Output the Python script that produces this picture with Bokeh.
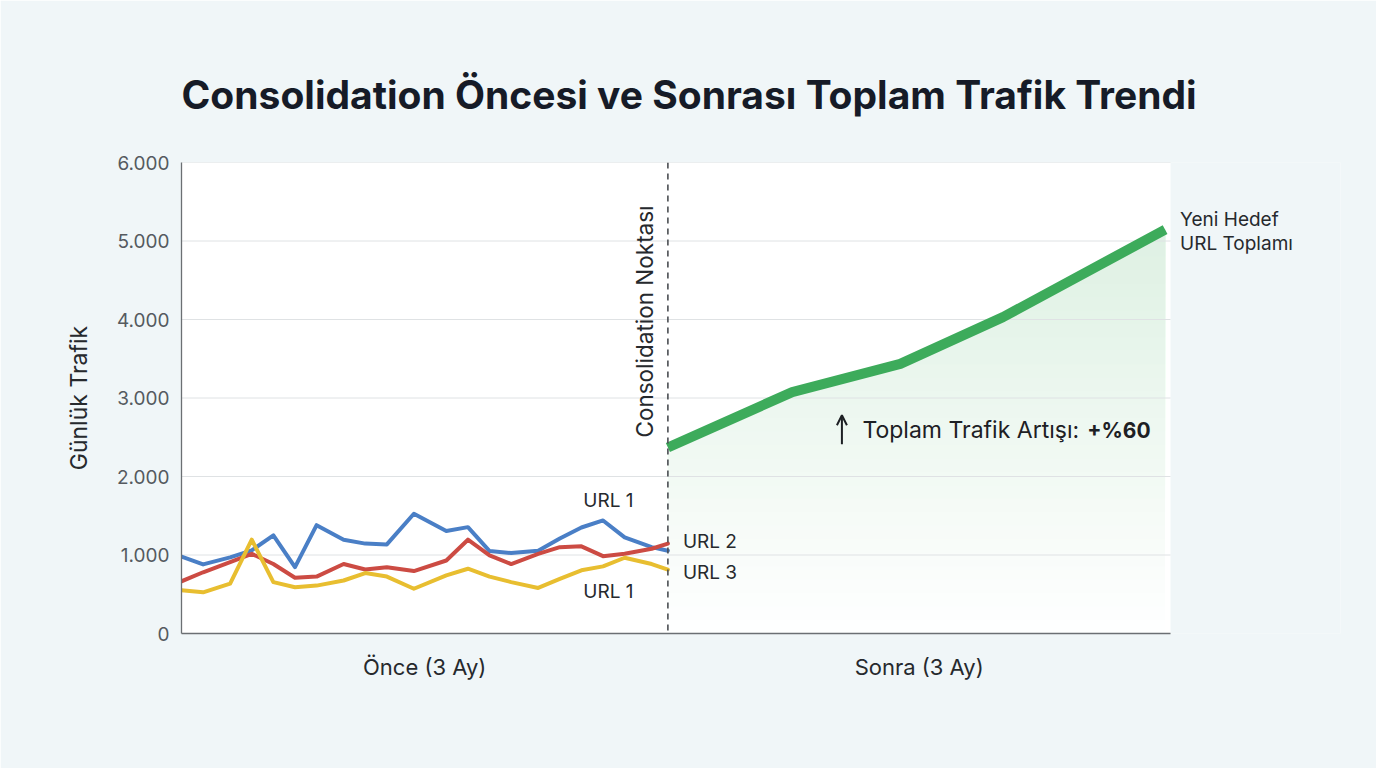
import numpy as np
from math import pi
from bokeh.plotting import figure
from bokeh.models import Label, Arrow, OpenHead, Span, FixedTicker, Range1d
from bokeh.embed import file_html
from bokeh.resources import INLINE

# ---------------- data ----------------
before_days = [0, 4, 9, 13, 17, 21, 25, 30, 34, 38, 43, 49, 53, 57, 61, 66, 70, 74, 78, 82, 87, 90]
url1 = [980, 880, 970, 1060, 1250, 845, 1380, 1195, 1145, 1135, 1525, 1305, 1355, 1050, 1025, 1055, 1210, 1350, 1440, 1225, 1100, 1055]
url2 = [665, 780, 910, 1015, 885, 710, 725, 885, 815, 845, 795, 930, 1195, 995, 885, 1015, 1100, 1110, 985, 1015, 1080, 1145]
url3 = [550, 525, 635, 1195, 655, 590, 610, 675, 770, 725, 570, 740, 825, 725, 655, 580, 695, 805, 855, 965, 885, 815]

after_days = [90, 113, 133, 152, 182]
total_after = [2370, 3075, 3435, 4030, 5145]

consolidation_day = 90
period_end = 183
y_ticks = [0, 1000, 2000, 3000, 4000, 5000, 6000]
y_tick_labels = ["0", "1.000", "2.000", "3.000", "4.000", "5.000", "6.000"]
x_ticks = [45, 136.5]
x_tick_labels = ["Önce (3 Ay)", "Sonra (3 Ay)"]

title = "Consolidation Öncesi ve Sonrası Toplam Trafik Trendi"
FONT = "Inter"
BLUE, RED, YELLOW, GREEN = "#4a7fc6", "#cc4b43", "#e8be30", "#3dab5b"
BG = "#f0f6f8"

# frame widened to the right so the end label can sit outside the white chart area
frame_left, frame_right_border = 181, 36
chart_px = 989  # width of white area in px
frame_px = 1376 - frame_left - frame_right_border
x_end = period_end * frame_px / chart_px
y_top = y_ticks[-1]

p = figure(width=1376, height=768, output_backend="svg", toolbar_location=None,
           x_range=Range1d(0, x_end), y_range=Range1d(0, y_top),
           min_border_left=frame_left, min_border_right=frame_right_border,
           min_border_top=162, min_border_bottom=135)
p.background_fill_color = BG
p.border_fill_color = BG
p.outline_line_color = None

# white chart area
p.quad(left=[0], right=[period_end], bottom=[0], top=[y_top], fill_color="white", line_color=None)

# title
p.title.text = title
p.title.text_font = FONT
p.title.text_font_style = "bold"
p.title.text_font_size = "39px"
p.title.text_color = "#161b27"
p.title.align = "left"
p.title.offset = 0
p.title.standoff = 90


def mix(alpha, c=GREEN):
    r, g, b = int(c[1:3], 16), int(c[3:5], 16), int(c[5:7], 16)
    return "#%02x%02x%02x" % tuple(round(255 - alpha * (255 - v)) for v in (r, g, b))


# gradient fill under the total line (opaque bands, each a subset of the previous)
gx = np.array(after_days, dtype=float)
gy = np.array(total_after, dtype=float)
N = 30
top = gy.max()
a_max = 0.17
xs, ys, cols = [], [], []
for k in range(N):
    L = top * k / N
    xc = float(np.interp(L, gy, gx))
    yc = float(np.interp(xc, gx, gy))
    px = [xc, xc] + [x for x in gx if x > xc] + [gx[-1]]
    py = [L, max(yc, L)] + [y for x, y in zip(gx, gy) if x > xc] + [L]
    xs.append(px)
    ys.append(py)
    cols.append(mix(a_max * (k + 0.5) / N))
p.patches(xs, ys, fill_color=cols, fill_alpha=1, line_color=None)

# gridlines limited to chart area, drawn over the fill
p.xgrid.visible = False
p.ygrid.visible = False
p.segment(x0=[0] * len(y_ticks), x1=[period_end] * len(y_ticks), y0=y_ticks, y1=y_ticks,
          line_color="#dfe2e4", line_width=1)

# axes
p.yaxis.ticker = FixedTicker(ticks=y_ticks)
p.yaxis.major_label_overrides = dict(zip(y_ticks, y_tick_labels))
p.xaxis.ticker = FixedTicker(ticks=x_ticks)
p.xaxis.major_label_overrides = dict(zip(x_ticks, x_tick_labels))
p.xaxis.bounds = (0, period_end)
for ax in (p.xaxis[0], p.yaxis[0]):
    ax.axis_line_color = "#6b6f73"
    ax.axis_line_width = 1.3
    ax.major_tick_line_color = None
    ax.minor_tick_line_color = None
    ax.major_label_text_font = FONT
p.yaxis.major_label_text_font_size = "19px"
p.yaxis.major_label_text_color = "#555a60"
p.yaxis.major_label_standoff = 6
p.xaxis.major_label_text_font_size = "22px"
p.xaxis.major_label_text_color = "#26292d"
p.xaxis.major_label_standoff = 14
p.yaxis.axis_label = "Günlük Trafik"
p.yaxis.axis_label_text_font = FONT
p.yaxis.axis_label_text_font_style = "normal"
p.yaxis.axis_label_text_font_size = "23px"
p.yaxis.axis_label_text_color = "#26292d"
p.yaxis.axis_label_standoff = 21

# before lines
for ys_, c in ((url1, BLUE), (url2, RED), (url3, YELLOW)):
    p.line(before_days, ys_, line_color=c, line_width=4, line_join="round", line_cap="round")

# after total line
p.line(after_days, total_after, line_color=GREEN, line_width=10, line_join="round", line_cap="butt")

# consolidation marker
p.add_layout(Span(location=consolidation_day, dimension="height", line_color="#4a4d52",
                  line_width=1.6, line_dash="6 5"))
p.add_layout(Label(x=consolidation_day, y=3975, x_offset=-23, text="Consolidation Noktası",
                   angle=pi / 2, text_align="center", text_baseline="middle",
                   text_font=FONT, text_font_size="22.5px", text_color="#26292d"))

lab = dict(text_font=FONT, text_font_size="19px", text_color="#26292d", text_baseline="middle")
p.add_layout(Label(x=79, y=1694, text="URL 1", text_align="center", **lab))
p.add_layout(Label(x=79, y=535, text="URL 1", text_align="center", **lab))
p.add_layout(Label(x=before_days[-1], y=url2[-1], x_offset=15, y_offset=2, text="URL 2", text_align="left", **lab))
p.add_layout(Label(x=before_days[-1], y=url3[-1], x_offset=15, y_offset=-3, text="URL 3", text_align="left", **lab))
p.add_layout(Label(x=after_days[-1], y=total_after[-1], x_offset=15, y_offset=10, text="Yeni Hedef", text_align="left", **lab))
p.add_layout(Label(x=after_days[-1], y=total_after[-1], x_offset=15, y_offset=-14, text="URL Toplamı", text_align="left", **lab))

# increase annotation
p.add_layout(Arrow(end=OpenHead(size=10, line_width=2, line_color="#1d2024"),
                   x_start=122.2, y_start=2410, x_end=122.2, y_end=2780,
                   line_width=2, line_color="#1d2024"))
p.add_layout(Label(x=126, y=2586, text="Toplam Trafik Artışı:", text_align="left", text_baseline="middle",
                   text_font=FONT, text_font_size="23px", text_color="#1d2024"))
p.add_layout(Label(x=167.6, y=2586, text="+%60", text_align="left", text_baseline="middle",
                   text_font=FONT, text_font_size="21px", text_font_style="bold", text_color="#1d2024"))

open("out.html", "w").write(file_html(p, INLINE))
